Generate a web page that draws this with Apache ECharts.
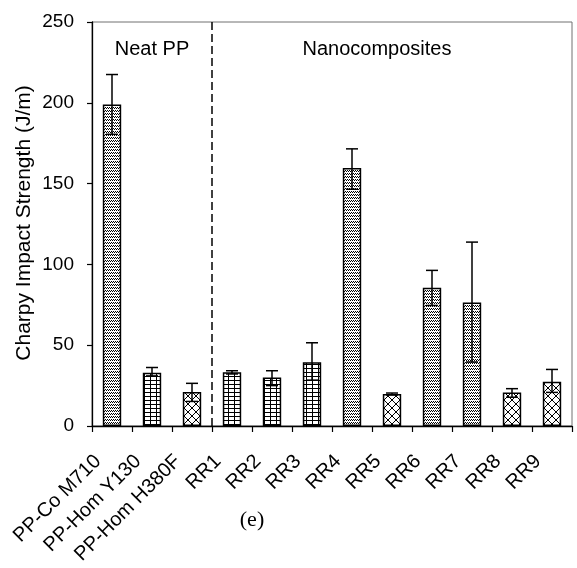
<!DOCTYPE html>
<html><head><meta charset="utf-8">
<script src="https://cdn.jsdelivr.net/npm/echarts@6/dist/echarts.min.js"></script>
<style>html,body{margin:0;padding:0;background:#fff}#c{width:577px;height:568px}</style>
</head><body><div id="c"></div>
<script>
// ---- data ----
var categories = ['PP-Co M710','PP-Hom Y130','PP-Hom H380F','RR1','RR2','RR3','RR4','RR5','RR6','RR7','RR8','RR9'];
var matrix = ['M710','Y130','H380F','Y130','Y130','Y130','M710','H380F','M710','M710','H380F','H380F'];
var strength = [199, 33, 21, 33.2, 30, 39.5, 159.7, 19.8, 85.5, 76.5, 20.8, 27.4];
var errorLow = [180.5, 31, 15.2, 32.2, 25, 28.4, 146.5, 19.2, 74.6, 39.6, 17.8, 20.8];
var errorHigh = [217.5, 36.2, 26.4, 34.2, 34.2, 51.5, 171.5, 20.4, 96.3, 113.8, 23.1, 35];
var yTicks = [0, 50, 100, 150, 200, 250];
var groupLabels = ['Neat PP', 'Nanocomposites'];
var yTitle = 'Charpy Impact Strength (J/m)';
var panelLabel = '(e)';
var dividerAfter = 3;

// ---- patterns ----
function mk(w, h, draw) {
  var c = document.createElement('canvas'); c.width = w; c.height = h;
  var g = c.getContext('2d'); g.fillStyle = '#fff'; g.fillRect(0, 0, w, h);
  g.fillStyle = '#000'; g.strokeStyle = '#000'; draw(g); return c;
}
var patterns = {
  M710: mk(4, 3, function (g) { g.fillRect(0,0,1,1); g.fillRect(2,0,1,1); g.fillRect(1,2,1,1); g.fillRect(3,2,1,1); }),
  Y130: mk(6, 4, function (g) { g.fillRect(0,0,6,1); g.fillRect(0,0,1,4); }),
  H380F: mk(8, 8, function (g) { g.lineWidth = 1; g.beginPath(); g.moveTo(0,0); g.lineTo(8,8); g.moveTo(8,0); g.lineTo(0,8); g.stroke(); })
};

var chart = echarts.init(document.getElementById('c'));
var barData = strength.map(function (v, i) {
  return { value: v, itemStyle: { color: { image: patterns[matrix[i]], repeat: 'repeat' } } };
});
var errData = strength.map(function (v, i) { return [i, errorLow[i], errorHigh[i]]; });

var font = 'Arial, "Liberation Sans", sans-serif';
chart.setOption({
  animation: false,
  grid: { left: 92, right: 5, top: 22, bottom: 142, containLabel: false, outerBoundsMode: 'none',
          show: true, borderColor: '#707070', borderWidth: 1 },
  xAxis: [{
    type: 'category', data: categories,
    axisLine: { lineStyle: { color: '#000', width: 1.3 } },
    axisTick: { show: true, length: 6, lineStyle: { color: '#000', width: 1.2 } },
    axisLabel: { interval: 0, rotate: 45, margin: 18, padding: [0, 20, 0, 0], fontSize: 20, color: '#000', fontFamily: font }
  }, {
    type: 'value', min: 0, max: categories.length, show: false
  }],
  yAxis: {
    type: 'value', min: yTicks[0], max: yTicks[yTicks.length - 1], interval: 50,
    axisLine: { show: true, lineStyle: { color: '#000', width: 1.3 } },
    axisTick: { show: true, length: 5, lineStyle: { color: '#000', width: 1.2 } },
    splitLine: { show: false },
    axisLabel: { fontSize: 19, color: '#000', margin: 18, fontFamily: font }
  },
  series: [{
    type: 'bar', data: barData, barWidth: '46%',
    itemStyle: { borderColor: '#000', borderWidth: 1.5 }
  }, {
    type: 'custom', data: errData, z: 10,
    renderItem: function (params, api) {
      var x = api.value(0);
      var lo = api.coord([x, api.value(1)]);
      var hi = api.coord([x, api.value(2)]);
      var hw = 6;
      var st = { stroke: '#000', lineWidth: 1.5 };
      return { type: 'group', children: [
        { type: 'line', shape: { x1: lo[0], y1: lo[1], x2: hi[0], y2: hi[1] }, style: st },
        { type: 'line', shape: { x1: hi[0] - hw, y1: hi[1], x2: hi[0] + hw, y2: hi[1] }, style: st },
        { type: 'line', shape: { x1: lo[0] - hw, y1: lo[1], x2: lo[0] + hw, y2: lo[1] }, style: st }
      ]};
    }
  }, {
    type: 'line', xAxisIndex: 1, data: [[dividerAfter, 0], [dividerAfter, 250]],
    symbol: 'none', lineStyle: { color: '#000', width: 1.5, type: [8, 4] }, z: 5
  }],
  graphic: [
    { type: 'text', x: 152, y: 49, style: { text: groupLabels[0], font: '20px ' + font, fill: '#000', textAlign: 'center', textVerticalAlign: 'middle' } },
    { type: 'text', x: 377, y: 49, style: { text: groupLabels[1], font: '20px ' + font, fill: '#000', textAlign: 'center', textVerticalAlign: 'middle' } },
    { type: 'text', x: 24, y: 223, rotation: Math.PI / 2, style: { text: yTitle, font: '21px ' + font, fill: '#000', textAlign: 'center', textVerticalAlign: 'middle' } },
    { type: 'text', x: 252, y: 520, style: { text: panelLabel, font: '22px "Liberation Serif", "Times New Roman", serif', fill: '#000', textAlign: 'center', textVerticalAlign: 'middle' } }
  ]
});
</script></body></html>
